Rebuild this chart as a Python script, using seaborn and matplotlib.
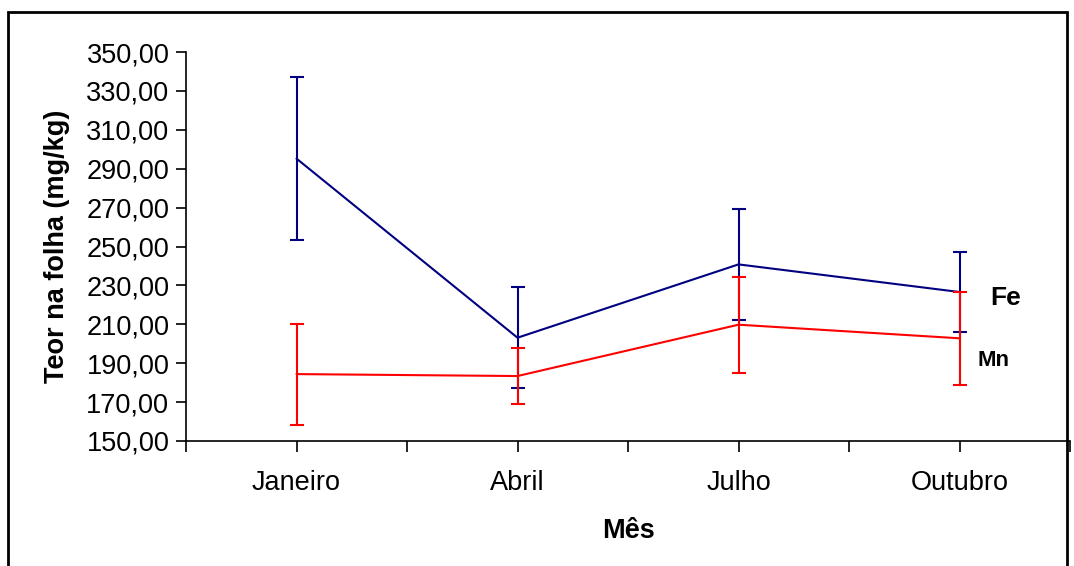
import matplotlib
matplotlib.use("Agg")
import matplotlib.pyplot as plt
import seaborn as sns
import pandas as pd
from matplotlib.ticker import FuncFormatter
from matplotlib.patches import Rectangle

meses = ["Janeiro", "Abril", "Julho", "Outubro"]
fe_media = [295.2, 203.1, 240.8, 226.6]
fe_erro = [41.7, 25.9, 28.7, 20.6]
mn_media = [184.4, 183.4, 209.8, 202.8]
mn_erro = [26.0, 14.4, 24.7, 24.0]

sns.set_theme(style="white")
plt.rcParams['font.family'] = ['Liberation Sans', 'DejaVu Sans']
plt.rcParams['text.color'] = 'black'
plt.rcParams['axes.labelcolor'] = 'black'
plt.rcParams['xtick.color'] = 'black'
plt.rcParams['ytick.color'] = 'black'

fig = plt.figure(figsize=(10.74, 5.66), dpi=100)
ax = fig.add_axes([186/1074, 1-441/566, (1070-186)/1074, (441-52)/566])

df = pd.DataFrame({"Mês": meses * 2,
                   "Teor": fe_media + mn_media,
                   "Elemento": ["Fe"] * 4 + ["Mn"] * 4})
sns.lineplot(data=df, x="Mês", y="Teor", hue="Elemento",
             palette={"Fe": "#000080", "Mn": "#FF0000"},
             linewidth=1.5, legend=False, ax=ax, sort=False)
xs = list(range(len(meses)))
ax.errorbar(xs, fe_media, yerr=fe_erro, fmt="none", ecolor="#000080",
            elinewidth=1.5, capsize=4.7, capthick=1.5)
ax.errorbar(xs, mn_media, yerr=mn_erro, fmt="none", ecolor="#FF0000",
            elinewidth=1.5, capsize=4.7, capthick=1.5)

ax.set_xlim(-0.5, 3.5)
ax.set_ylim(150, 350)
ax.set_yticks(range(150, 351, 20))
ax.yaxis.set_major_formatter(FuncFormatter(lambda v, p: f"{v:.2f}".replace(".", ",")))
ticks = [i * 0.5 - 0.5 for i in range(9)]
ax.set_xticks(ticks)
ax.set_xticklabels([meses[int(t)] if t == int(t) else "" for t in ticks])

for s in ["top", "right"]:
    ax.spines[s].set_visible(False)
for s in ["left", "bottom"]:
    ax.spines[s].set_color("black")
    ax.spines[s].set_linewidth(1.2)
ax.tick_params(axis="y", direction="out", length=7, width=1.2, color="black",
               labelsize=19.5, pad=5, left=True)
ax.tick_params(axis="x", direction="out", length=8, width=1.2, color="black",
               labelsize=19.5, pad=13, bottom=True)

ax.set_xlabel("Mês", fontsize=19.5, fontweight="bold", labelpad=16)
ax.set_ylabel("Teor na folha (mg/kg)", fontsize=19.5, fontweight="bold", labelpad=12)

ax.text(3.14, 223.5, "Fe", fontsize=19, fontweight="bold", va="center", ha="left")
ax.text(3.08, 191.6, "Mn", fontsize=16, fontweight="bold", va="center", ha="left")

fig.patches.append(Rectangle((8/1074, -0.05), (1067-8)/1074, 1.05 - 12/566,
                             transform=fig.transFigure, fill=False,
                             edgecolor="black", linewidth=2))

fig.savefig("out.png", dpi=100)
